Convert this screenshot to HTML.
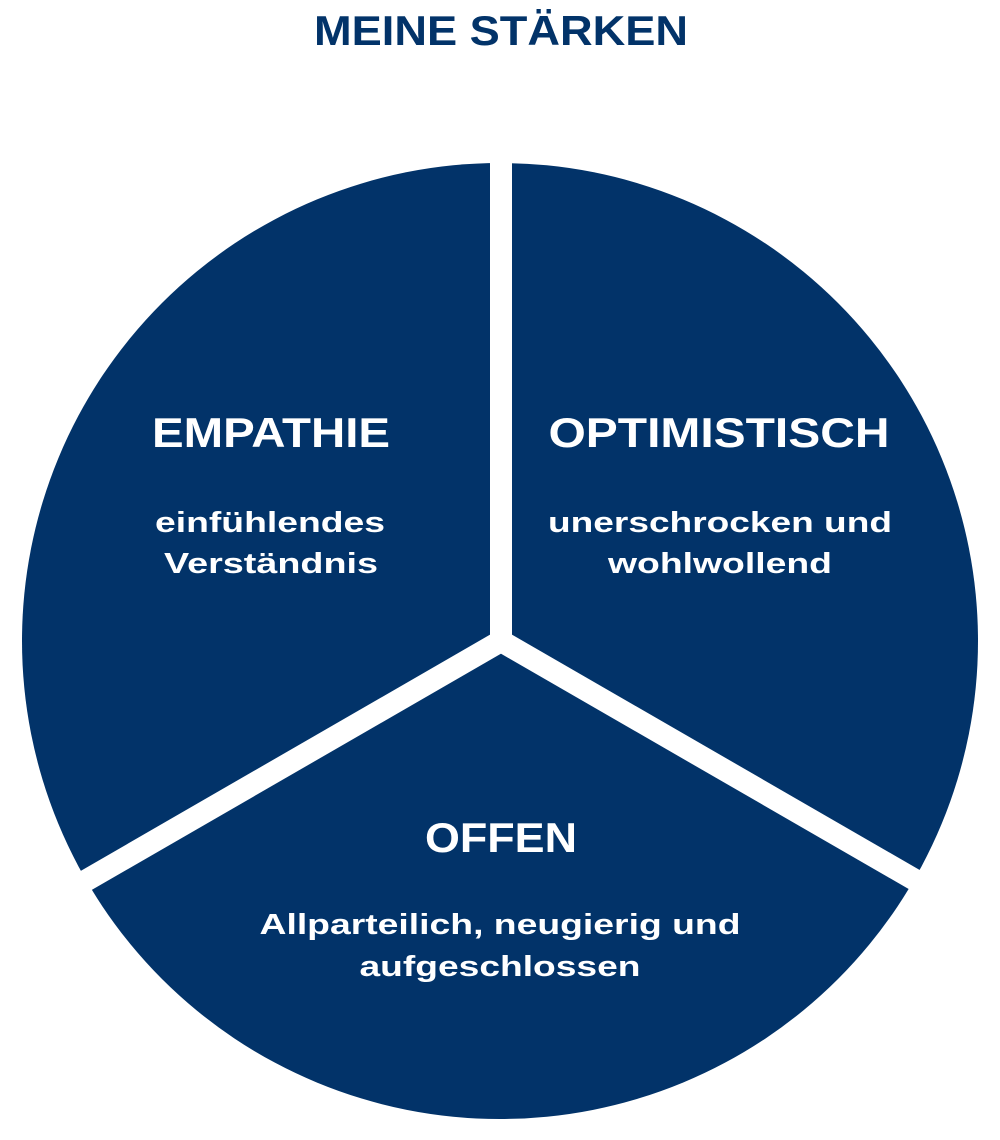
<!DOCTYPE html>
<html><head><meta charset="utf-8"><style>
html,body{margin:0;padding:0;background:#fff;}
svg{display:block;}
text{font-family:"Liberation Sans",Arial,sans-serif;font-weight:bold;text-anchor:middle;}
</style></head><body>
<svg width="1000" height="1140" viewBox="0 0 1000 1140">
<text x="501" y="45" font-size="42" fill="#023369" textLength="374" lengthAdjust="spacingAndGlyphs">MEINE STÄRKEN</text>
<circle cx="500" cy="641" r="478" fill="#023369"/>
<g stroke="#fff" stroke-width="22" stroke-linecap="butt">
<line x1="501" y1="641" x2="501" y2="150"/>
<line x1="501" y1="641" x2="80" y2="884"/>
<line x1="501" y1="641" x2="922" y2="884"/>
</g>
<g fill="#fff">
<text x="271" y="447" font-size="42" textLength="238" lengthAdjust="spacingAndGlyphs">EMPATHIE</text>
<text x="270" y="532" font-size="29" textLength="230" lengthAdjust="spacingAndGlyphs">einfühlendes</text>
<text x="271" y="573" font-size="29" textLength="214" lengthAdjust="spacingAndGlyphs">Verständnis</text>
<text x="719" y="447" font-size="42" textLength="341" lengthAdjust="spacingAndGlyphs">OPTIMISTISCH</text>
<text x="720" y="532" font-size="29" textLength="344" lengthAdjust="spacingAndGlyphs">unerschrocken und</text>
<text x="720" y="573" font-size="29" textLength="224" lengthAdjust="spacingAndGlyphs">wohlwollend</text>
<text x="501" y="852" font-size="42" textLength="152" lengthAdjust="spacingAndGlyphs">OFFEN</text>
<text x="500" y="934" font-size="29" textLength="481" lengthAdjust="spacingAndGlyphs">Allparteilich, neugierig und</text>
<text x="500" y="976" font-size="29" textLength="281" lengthAdjust="spacingAndGlyphs">aufgeschlossen</text>
</g>
</svg>
</body></html>
